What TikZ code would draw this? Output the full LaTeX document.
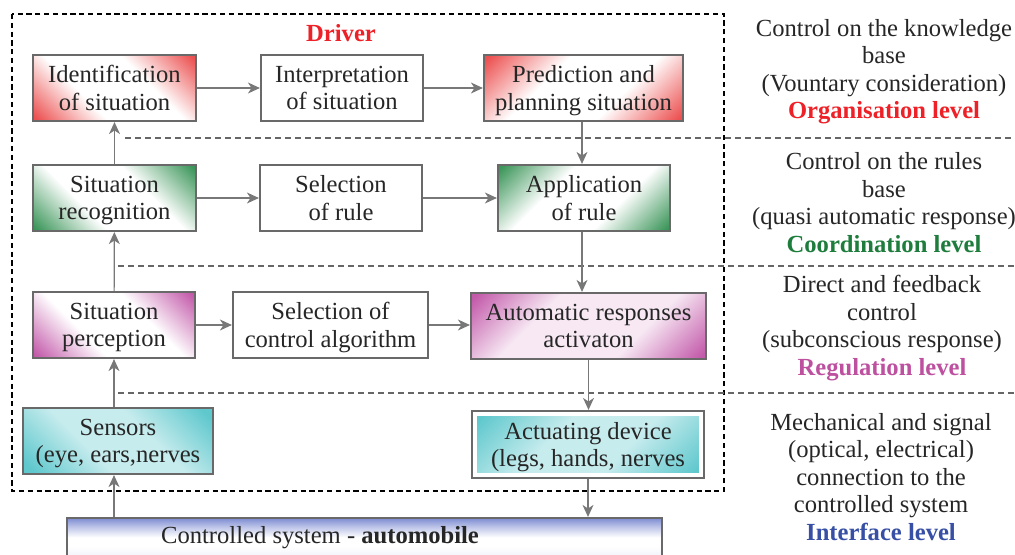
\documentclass[tikz,border=0pt]{standalone}
\usepackage{fontspec}
\setmainfont{Liberation Serif}
\usetikzlibrary{arrows.meta}
\definecolor{orgred}{RGB}{237,33,39}
\definecolor{coordgreen}{RGB}{30,125,60}
\definecolor{regmag}{RGB}{190,80,160}
\definecolor{ifblue}{RGB}{55,80,165}
\definecolor{shred}{RGB}{236,80,80}
\definecolor{shgreen}{RGB}{60,150,90}
\definecolor{shmag}{RGB}{195,90,170}
\definecolor{shcyan}{RGB}{95,200,205}
\definecolor{shblue}{RGB}{125,140,210}
\definecolor{edge}{RGB}{105,105,105}
\definecolor{wire}{RGB}{120,120,120}
\colorlet{magsoft}{shmag!14}
\colorlet{cyansoft}{shcyan!35}
\colorlet{bluemid}{shblue!30}

% corner-to-corner tints: colour at both ends, pale band through the middle
\pgfdeclareverticalshading{redcorner}{100bp}{color(0bp)=(shred);
  color(16bp)=(shred); color(38bp)=(white); color(62bp)=(white);
  color(84bp)=(shred); color(100bp)=(shred)}
\pgfdeclareverticalshading{greencorner}{100bp}{color(0bp)=(shgreen);
  color(16bp)=(shgreen); color(38bp)=(white); color(62bp)=(white);
  color(84bp)=(shgreen); color(100bp)=(shgreen)}
\pgfdeclareverticalshading{magcorner}{100bp}{color(0bp)=(shmag);
  color(16bp)=(shmag); color(38bp)=(white); color(62bp)=(white);
  color(84bp)=(shmag); color(100bp)=(shmag)}
\pgfdeclareverticalshading{magpale}{100bp}{color(0bp)=(shmag);
  color(16bp)=(shmag); color(36bp)=(magsoft); color(64bp)=(magsoft);
  color(84bp)=(shmag); color(100bp)=(shmag)}
\pgfdeclareverticalshading{cyanpale}{100bp}{color(0bp)=(shcyan);
  color(18bp)=(shcyan); color(40bp)=(cyansoft); color(60bp)=(cyansoft);
  color(82bp)=(shcyan); color(100bp)=(shcyan)}
\pgfdeclareverticalshading{bluebar}{100bp}{color(0bp)=(bluemid);
  color(25bp)=(bluemid); color(50bp)=(white); color(58bp)=(white);
  color(68bp)=(shblue!55); color(75bp)=(shblue); color(100bp)=(shblue)}

\begin{document}
\begin{tikzpicture}[
  x=0.5pt, y=-0.5pt,
  font=\fontsize{12.3}{13.75}\selectfont,
  stage/.style={draw=edge, line width=1.1pt, minimum height=33pt,
                align=center, inner sep=2pt, text depth=0pt, text=black!85},
  tint/.style 2 args={shading=#1, shading angle=#2},
  ar/.style={-{Stealth[length=6pt, width=5.5pt, inset=1.8pt]}, wire,
             line width=0.6pt},
  sep/.style={dash pattern=on 3pt off 2pt, black!60, line width=0.6pt},
  lvl/.style={align=center, text=black!85},
]

\useasboundingbox (0,0) rectangle (1015,555);

% ---- driver frame ----
\draw[black, line width=0.8pt, dash pattern=on 2.6pt off 1.8pt]
      (12,14) rectangle (724,491);
\node[font=\fontsize{12.3}{13.75}\selectfont\bfseries, text=orgred]
      (drv) at (341,33) {Driver};

% ---- level separators ----
\draw[sep] (125,138) -- (1015,138);
\draw[sep] (118,266) -- (1015,266);
\draw[sep] (118,393) -- (1015,393);

% ---- organisation row ----
\node[stage, minimum width=81.5pt, tint={redcorner}{-45}]
      (ident) at (114.5,88) {Identification\\of situation};
\node[stage, minimum width=81pt, fill=white]
      (interp) at (342,88) {Interpretation\\of situation};
\node[stage, minimum width=99.5pt, tint={redcorner}{45}]
      (pred) at (583.5,88) {Prediction and\\planning situation};

% ---- coordination row ----
\node[stage, minimum width=81.5pt, tint={greencorner}{-45}]
      (recog) at (114.5,198) {Situation\\recognition};
\node[stage, minimum width=81pt, fill=white]
      (rule) at (341,198) {Selection\\of rule};
\node[stage, minimum width=86pt, tint={greencorner}{45}]
      (apply) at (584,198) {Application\\of rule};

% ---- regulation row ----
\node[stage, minimum width=81pt, tint={magcorner}{-45}]
      (percep) at (114,325) {Situation\\perception};
\node[stage, minimum width=97.5pt, fill=white]
      (algo) at (330.5,325) {Selection of\\control algorithm};
\node[stage, minimum width=117.5pt, tint={magpale}{45}]
      (auto) at (588.5,326) {Automatic responses\\activaton};

% ---- interface row ----
\node[stage, minimum width=95pt, tint={cyanpale}{-45}]
      (sens) at (118,441) {Sensors\\(eye, ears,nerves};
\node[stage, minimum width=116pt, minimum height=33.5pt, fill=white,
      path picture={\shade[tint={cyanpale}{45}]
        ([shift={(2.6pt,-2.6pt)}]path picture bounding box.north west)
        rectangle ([shift={(-2.6pt,2.6pt)}]path picture bounding box.south east);}]
      (act) at (588,444.5) {Actuating device\\(legs, hands, nerves};

% ---- controlled system ----
\node[stage, minimum width=297.5pt, minimum height=28.5pt, shading=bluebar]
      (sys) at (364.5,546.5) {};
\node[text=black!85] (systxt) at (320,538)
      {Controlled system - \textbf{automobile}};

% ---- connectors ----
\draw[ar] (ident) -- (interp);
\draw[ar] (interp) -- (pred);
\draw[ar] (recog) -- (rule);
\draw[ar] (rule) -- (apply);
\draw[ar] (percep) -- (algo);
\draw[ar] (algo) -- (auto.west |- algo);
\draw[ar] (recog) -- (ident);
\draw[ar] (percep) -- (recog);
\draw[ar] (percep.south |- sens.north) -- (percep.south);
\draw[ar] (percep.south |- sys.north) -- (percep.south |- sens.south);
\draw[ar] (apply.south -| 582,0) -- (582,0 |- auto.north);
\draw[ar] (pred.south -| 582,0) -- (582,0 |- apply.north);
\draw[ar] (auto) -- (auto |- act.north);
\draw[ar] (act) -- (act |- sys.north);

% ---- level notes ----
\node[lvl] (n1) at (884,71.5)
      {Control on the knowledge\\base\\(Vountary consideration)\\
       \textcolor{orgred}{\textbf{Organisation level}}};
\node[lvl] (n2) at (884,202.5)
      {Control on the rules\\base\\(quasi automatic response)\\
       \textcolor{coordgreen}{\textbf{Coordination level}}};
\node[lvl] (n3) at (882,328)
      {Direct and feedback\\control\\(subconscious response)\\
       \textcolor{regmag}{\textbf{Regulation level}}};
\node[lvl] (n4) at (881,477)
      {Mechanical and signal\\(optical, electrical)\\connection to the\\
       controlled system\\\textcolor{ifblue}{\textbf{Interface level}}};

\end{tikzpicture}
\end{document}
